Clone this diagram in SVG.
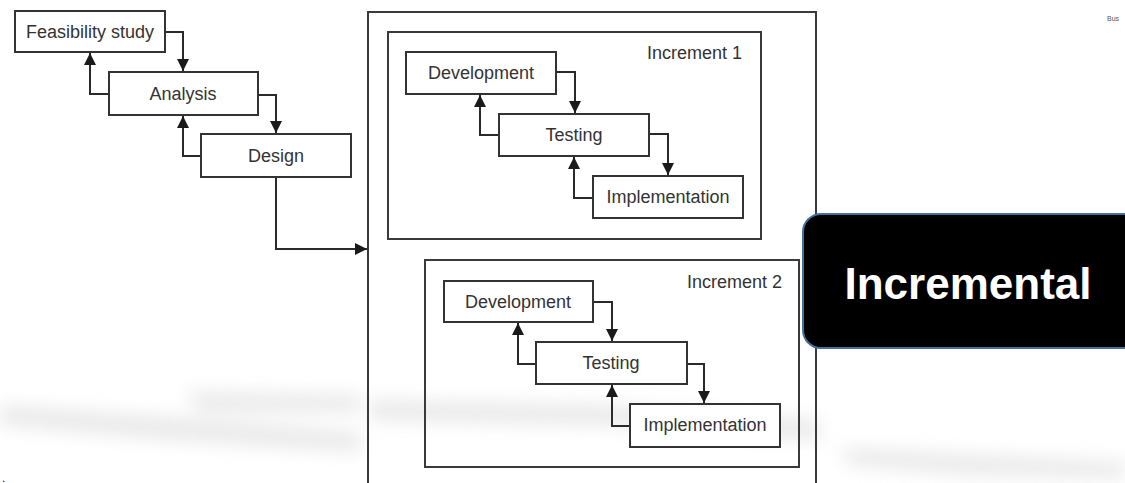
<svg xmlns="http://www.w3.org/2000/svg" width="1125" height="483" viewBox="0 0 1125 483">
<style>
.box{fill:#fff;stroke:#333;stroke-width:2}
.frame{fill:none;stroke:#3a3a3a;stroke-width:2}
.lbl{font-family:"Liberation Sans",Arial,sans-serif;font-size:18px;fill:#333}
.c{text-anchor:middle}
.r{text-anchor:end}
.link{fill:none;stroke:#2a2a2a;stroke-width:2;marker-end:url(#ah)}
</style>
<defs>
<marker id="ah" viewBox="0 0 10 10" refX="10" refY="5" markerWidth="6" markerHeight="6" orient="auto" markerUnits="strokeWidth">
<path d="M0,0 L10,5 L0,10 z" fill="#1a1a1a"/>
</marker>
<filter id="blur" x="-20%" y="-100%" width="140%" height="300%"><feGaussianBlur stdDeviation="9"/></filter>
</defs>
<rect width="1125" height="483" fill="#fff"/>
<g id="shadows" filter="url(#blur)" fill="#e0e0e0" opacity="0.7">
<path d="M0,405 L180,418 L360,432 L360,452 L170,440 L0,425 z"/>
<path d="M185,392 L360,395 L360,412 L200,412 z"/>
<path d="M370,400 L600,405 L820,420 L820,440 L600,425 L370,420 z"/>
<path d="M840,448 L980,455 L1125,462 L1125,478 L970,475 L850,465 z"/>
</g>
<g id="outer-frame"><rect class="frame" x="368" y="12" width="448" height="490"/></g>
<g id="increment1-frame"><rect class="frame" x="388" y="32" width="373" height="207"/><text class="lbl r" x="742" y="59">Increment 1</text></g>
<g id="increment2-frame"><rect class="frame" x="425" y="260" width="374" height="207"/><text class="lbl r" x="782" y="288">Increment 2</text></g>
<g id="connectors">
<path class="link" d="M165,32 H183 V71"/>
<path class="link" d="M109,94 H90 V53"/>
<path class="link" d="M258,95 H276 V133"/>
<path class="link" d="M201,156 H183 V116"/>
<path class="link" d="M276,177 V249 H367"/>
<path class="link" d="M556,72 H575 V113"/>
<path class="link" d="M499,135 H480 V95"/>
<path class="link" d="M649,134 H668 V175"/>
<path class="link" d="M593,198 H574 V157"/>
<path class="link" d="M593,302 H612 V341"/>
<path class="link" d="M536,364 H518 V323"/>
<path class="link" d="M687,364 H704 V403"/>
<path class="link" d="M630,426 H612 V385"/>
</g>
<g id="feasibility"><rect class="box" x="15" y="11" width="150" height="41"/><text class="lbl c" x="90" y="38">Feasibility study</text></g>
<g id="analysis"><rect class="box" x="109" y="72" width="149" height="43"/><text class="lbl c" x="183" y="100">Analysis</text></g>
<g id="design"><rect class="box" x="201" y="134" width="150" height="43"/><text class="lbl c" x="276" y="162">Design</text></g>
<g id="dev1"><rect class="box" x="406" y="52" width="150" height="42"/><text class="lbl c" x="481" y="79">Development</text></g>
<g id="test1"><rect class="box" x="499" y="114" width="150" height="42"/><text class="lbl c" x="574" y="141">Testing</text></g>
<g id="impl1"><rect class="box" x="593" y="176" width="150" height="42"/><text class="lbl c" x="668" y="203">Implementation</text></g>
<g id="dev2"><rect class="box" x="444" y="281" width="149" height="41"/><text class="lbl c" x="518" y="308">Development</text></g>
<g id="test2"><rect class="box" x="536" y="342" width="151" height="42"/><text class="lbl c" x="611" y="369">Testing</text></g>
<g id="impl2"><rect class="box" x="630" y="404" width="150" height="43"/><text class="lbl c" x="705" y="431">Implementation</text></g>
<g id="incremental"><rect x="803" y="214" width="340" height="134" rx="18" ry="18" fill="#000" stroke="#41719c" stroke-width="2"/><text x="968" y="299" font-family="'Liberation Sans',Arial,sans-serif" font-size="44" font-weight="bold" fill="#fff" text-anchor="middle">Incremental</text></g>
<g id="corner-text"><text x="1107" y="21" font-family="'Liberation Sans',Arial,sans-serif" font-size="7" fill="#556">Bus</text><text x="2" y="482" font-family="'Liberation Sans',Arial,sans-serif" font-size="12" fill="#222">.</text></g>
</svg>
